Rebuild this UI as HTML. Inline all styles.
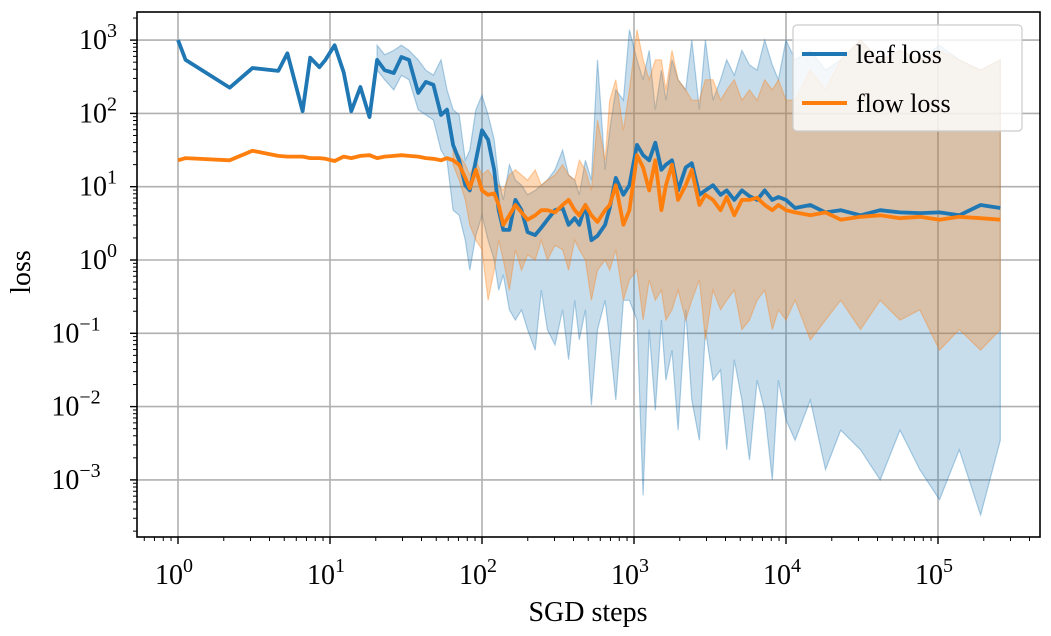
<!DOCTYPE html>
<html><head><meta charset="utf-8">
<style>
html,body{margin:0;padding:0;background:#fff;overflow:hidden;}
svg{display:block;font-family:"Liberation Serif","DejaVu Serif",serif;}
</style></head>
<body>
<svg id="chart" width="1051" height="636" viewBox="0 0 1051 636">
  <g id="grid"></g>
  <g id="bands"></g>
  <g id="lines"></g>
  <rect x="137" y="12" width="903" height="525" fill="none" stroke="#000" stroke-width="1.6"/>
  <g id="ticks"></g>
  <text x="588" y="621" font-size="28" text-anchor="middle">SGD steps</text>
  <text transform="translate(30,272) rotate(-90)" font-size="28" text-anchor="middle">loss</text>
  <g>
    <rect x="793" y="25" width="229" height="106" rx="4" fill="#fff" fill-opacity="0.8" stroke="#ccc" stroke-width="1.2"/>
    <g>
      <line x1="802" y1="54" x2="847" y2="54" stroke="#1f77b4" stroke-width="4"/>
      <text x="856" y="63" font-size="26">leaf loss</text>
    </g>
    <g>
      <line x1="802" y1="103" x2="847" y2="103" stroke="#ff7f0e" stroke-width="4"/>
      <text x="856" y="112" font-size="26">flow loss</text>
    </g>
  </g>
</svg>
<script>
// log10 of SGD step
const logSteps = [0.00,0.05,0.34,0.49,0.66,0.72,0.82,0.87,0.93,0.97,1.03,1.09,1.14,1.20,1.26,1.31,1.36,1.42,1.47,1.52,1.58,1.63,1.68,1.73,1.77,1.81,1.85,1.89,1.92,1.96,2.00,2.04,2.08,2.11,2.14,2.18,2.22,2.26,2.30,2.35,2.39,2.43,2.48,2.53,2.57,2.61,2.64,2.68,2.72,2.76,2.81,2.84,2.88,2.93,2.97,3.02,3.06,3.10,3.14,3.18,3.21,3.25,3.29,3.34,3.38,3.43,3.47,3.52,3.57,3.61,3.66,3.71,3.76,3.81,3.86,3.91,3.95,4.00,4.06,4.16,4.26,4.36,4.49,4.62,4.75,4.88,5.01,5.14,5.28,5.41];
// log10 of loss values
const leafMean = [3.00,2.73,2.35,2.62,2.58,2.82,2.03,2.76,2.63,2.73,2.93,2.56,2.03,2.36,1.95,2.73,2.59,2.55,2.77,2.73,2.28,2.43,2.39,1.98,2.05,1.57,1.36,1.02,0.95,1.36,1.77,1.64,1.23,0.68,0.41,0.41,0.82,0.68,0.38,0.34,0.44,0.55,0.68,0.71,0.48,0.57,0.48,0.75,0.27,0.33,0.48,0.71,1.12,0.89,1.02,1.57,1.43,1.36,1.60,1.23,1.30,1.36,0.95,1.26,1.32,0.89,0.95,1.02,0.89,0.95,0.82,0.95,0.87,0.82,0.95,0.82,0.86,0.82,0.71,0.75,0.65,0.68,0.61,0.68,0.65,0.64,0.65,0.61,0.75,0.71];
const flowMean = [1.36,1.39,1.36,1.49,1.42,1.41,1.41,1.39,1.39,1.38,1.35,1.41,1.39,1.42,1.43,1.39,1.41,1.42,1.43,1.42,1.41,1.39,1.38,1.36,1.39,1.36,1.30,1.12,0.98,1.23,0.95,0.89,0.91,0.75,0.48,0.61,0.75,0.65,0.55,0.61,0.68,0.68,0.65,0.75,0.82,0.68,0.61,0.75,0.61,0.52,0.68,0.75,1.02,0.48,0.68,1.43,1.26,0.95,1.36,0.68,1.02,1.30,0.82,1.02,1.23,0.75,0.89,0.82,0.68,0.86,0.61,0.82,0.82,0.85,0.75,0.68,0.75,0.68,0.65,0.61,0.65,0.55,0.59,0.61,0.57,0.59,0.55,0.59,0.57,0.55];
const leafBandStart = 15;
const leafHigh = [2.93,2.80,2.86,2.93,2.86,2.73,2.59,2.52,2.73,2.32,2.05,1.98,1.36,1.50,2.05,2.25,1.98,1.64,1.09,0.82,1.30,1.09,1.02,0.89,0.95,1.02,1.09,1.23,1.50,1.16,1.09,0.89,1.36,1.09,2.73,1.23,1.77,2.32,2.18,3.14,2.73,2.46,2.86,2.05,2.59,2.18,2.73,2.46,2.32,3.00,2.05,3.00,2.18,2.46,2.73,2.52,2.86,2.66,2.59,3.00,2.66,2.46,3.00,2.73,2.86,2.59,2.73,3.00,2.73,2.86,2.73,2.93,2.73,2.59,2.73];
const leafLow = [2.59,2.46,2.32,2.52,2.46,2.05,1.98,1.91,1.50,1.36,0.68,0.61,0.27,-0.14,0.34,0.61,0.27,0.00,-0.41,-0.20,-0.68,-0.82,-0.68,-0.95,-1.23,-0.41,-0.95,-1.16,-0.68,-1.36,-0.55,-1.09,-0.68,-1.98,-0.95,-0.55,-1.09,-1.91,-0.55,-0.55,-0.82,-3.21,-0.95,-2.05,-0.82,-1.64,-1.23,-2.32,-0.68,-1.91,-2.46,-0.95,-1.64,-1.50,-2.59,-1.36,-1.91,-2.73,-1.64,-2.05,-3.00,-1.64,-2.18,-2.46,-1.91,-2.86,-2.32,-2.59,-3.00,-2.32,-2.86,-3.27,-2.59,-3.48,-2.46];
const flowBandStart = 25;
const flowHigh = [1.50,1.43,1.30,1.16,1.36,1.16,1.23,1.09,1.02,0.95,1.16,1.23,1.16,1.09,1.23,1.02,1.09,1.16,1.30,1.16,1.09,1.36,1.23,0.95,1.91,1.36,2.18,2.46,1.77,2.32,3.14,2.73,2.46,2.73,2.73,2.32,2.86,2.46,2.32,2.18,2.18,2.46,2.46,2.18,2.32,2.46,2.18,2.32,2.18,2.46,2.32,2.46,2.18,2.18,2.59,2.32,2.73,3.00,2.73,2.86,2.73,2.86,2.73,2.59,2.73];
const flowLow = [1.30,1.09,0.82,0.48,0.27,0.14,-0.55,-0.14,0.27,0.00,-0.41,0.14,-0.14,0.07,0.00,0.27,0.00,0.20,0.14,-0.14,0.27,0.14,0.00,-0.55,-0.14,0.00,-0.14,0.14,-0.55,-0.27,-0.14,-0.82,-0.27,-0.55,-0.41,-0.82,-0.68,-0.41,-0.82,-0.55,-0.27,-1.09,-0.41,-0.68,-0.55,-0.41,-0.95,-0.82,-0.55,-0.41,-0.95,-0.68,-0.82,-0.55,-1.09,-0.82,-0.55,-0.95,-0.55,-0.82,-0.68,-1.23,-0.95,-1.23,-0.95];
const xTickExps = [0,1,2,3,4,5];
const yTickExps = [3,2,1,0,-1,-2,-3];

const NS = "http://www.w3.org/2000/svg";
const X0 = 178, XPD = 152;
const Y0 = 260, YPD = 73.3;
const xs = l => X0 + l * XPD;
const ys = l => Y0 - l * YPD;
function mk(tag, attrs, parent){const e=document.createElementNS(NS,tag);for(const k in attrs)e.setAttribute(k,attrs[k]);parent.appendChild(e);return e;}

const grid = document.getElementById('grid');
const ticks = document.getElementById('ticks');
xTickExps.forEach(e=>{
  const x = xs(e);
  const g = mk('line',{x1:x,x2:x,y1:12,y2:537,stroke:'#b0b0b0','stroke-width':1.6},grid);
  
  
  mk('line',{x1:x,x2:x,y1:537,y2:544,stroke:'#000','stroke-width':1.4},ticks);
  const t = mk('text',{x:x-4,y:584,'font-size':28,'text-anchor':'middle'},ticks);
  
  
  t.appendChild(document.createTextNode('10'));
  const s = mk('tspan',{dy:-12,'font-size':20},t); s.textContent = String(e);
});
for(let d=-1; d<=5; d++){
  for(let m=2;m<=9;m++){
    const x = xs(d+Math.log10(m));
    if(x<137||x>1040) continue;
    mk('line',{x1:x,x2:x,y1:537,y2:541,stroke:'#000','stroke-width':1},ticks);
  }
}
yTickExps.forEach(e=>{
  const y = ys(e);
  const g = mk('line',{x1:137,x2:1040,y1:y,y2:y,stroke:'#b0b0b0','stroke-width':1.6},grid);
  
  
  mk('line',{x1:130,x2:137,y1:y,y2:y,stroke:'#000','stroke-width':1.4},ticks);
  const t = mk('text',{x:e<0?76:98,y:y+9,'font-size':28,'text-anchor':'middle'},ticks);
  
  
  t.appendChild(document.createTextNode('10'));
  const s = mk('tspan',{dy:-12,'font-size':20},t); s.textContent = e<0 ? '\u2212'+(-e) : String(e);
});
for(let d=-4; d<=3; d++){
  for(let m=2;m<=9;m++){
    const y = ys(d+Math.log10(m));
    if(y<12||y>537) continue;
    mk('line',{x1:133,x2:137,y1:y,y2:y,stroke:'#000','stroke-width':1},ticks);
  }
}

const bands = document.getElementById('bands');
function band(start, hi, lo, color, op, name){
  const n = Math.min(hi.length, lo.length, logSteps.length-start);
  let d='';
  for(let i=0;i<n;i++) d += (i?'L':'M')+xs(logSteps[start+i]).toFixed(1)+','+ys(hi[i]).toFixed(1);
  for(let i=n-1;i>=0;i--) d += 'L'+xs(logSteps[start+i]).toFixed(1)+','+ys(lo[i]).toFixed(1);
  const p = mk('path',{d:d+'Z',fill:color,'fill-opacity':op,stroke:color,'stroke-opacity':0.35,'stroke-width':1.2},bands);
  
  
}
band(leafBandStart, leafHigh, leafLow, '#1f77b4', 0.25, 'leaf-loss-band');
band(flowBandStart, flowHigh, flowLow, '#ff7f0e', 0.3, 'flow-loss-band');

const lines = document.getElementById('lines');
function line(vals, color, name){
  const n = Math.min(vals.length, logSteps.length);
  let d='';
  for(let i=0;i<n;i++) d += (i?'L':'M')+xs(logSteps[i]).toFixed(1)+','+ys(vals[i]).toFixed(1);
  const p = mk('path',{d:d,fill:'none',stroke:color,'stroke-width':3.8,'stroke-linejoin':'round'},lines);
  
  
}
line(leafMean,'#1f77b4','leaf-loss-line');
line(flowMean,'#ff7f0e','flow-loss-line');
</script>
</body></html>
